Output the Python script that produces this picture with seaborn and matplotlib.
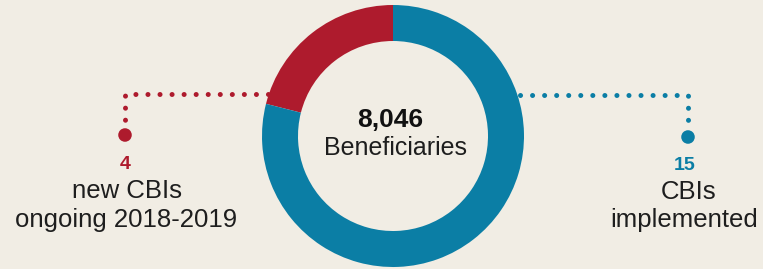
import matplotlib
matplotlib.use("Agg")
import matplotlib.pyplot as plt
import seaborn as sns
import pandas as pd
import numpy as np

# ---- data ----
categories = ["new CBIs\nongoing 2018-2019", "CBIs\nimplemented"]
values = [4, 15]
beneficiaries = 8046
center_label = "Beneficiaries"

# ---- style ----
BG = "#F1EDE4"
RED = "#AE1B2D"
BLUE = "#0B7EA5"
TXT = "#1E1E1E"
colors = [RED, BLUE]

sns.set_theme(style="white", rc={"figure.facecolor": BG, "axes.facecolor": BG})
plt.rcParams["font.family"] = ["Liberation Sans", "DejaVu Sans"]

W, H = 763, 269
fig = plt.figure(figsize=(W / 100, H / 100), dpi=100)
ax = fig.add_axes([0, 0, 1, 1])
ax.set_facecolor(BG)

cx, cy, R = 393, 133, 131
ax.pie(values, colors=colors, startangle=90, counterclock=True,
       radius=R, center=(cx, cy),
       wedgeprops=dict(width=36, linewidth=0, edgecolor="none"))
ax.set_xlim(0, W)
ax.set_ylim(0, H)
ax.set_aspect("equal")
ax.axis("off")
for w in ax.patches:
    w.set_zorder(3)

# connectors (dotted) and end dots
dot_style = dict(linewidth=3.6, linestyle=(0, (0.01, 2.4)),
                 dash_capstyle="round", zorder=2)
# left (red)
lx, ly_top, ly_end = 125, 175, 134
ax.plot([268, lx, lx], [ly_top, ly_top, ly_end + 8], color=RED, **dot_style)
# right (blue)
rx, ry_top, ry_end = 688, 174, 132
ax.plot([520, rx, rx], [ry_top, ry_top, ry_end + 8], color=BLUE, **dot_style)

ends = pd.DataFrame({"x": [lx, rx], "y": [ly_end, ry_end], "cat": categories})
sns.scatterplot(data=ends, x="x", y="y", hue="cat", palette=colors,
                s=95, linewidth=0, legend=False, ax=ax, zorder=4)
ax.set_xlim(0, W)
ax.set_ylim(0, H)
ax.axis("off")

# numbers and labels
ax.text(lx, 100, f"{values[0]}", color=RED, fontsize=14, fontweight="bold",
        ha="center", va="baseline")
l1, l2 = categories[0].split("\n")
ax.text(127, 71, l1, color=TXT, fontsize=18.5, ha="center", va="baseline")
ax.text(126, 42, l2, color=TXT, fontsize=18.5, ha="center", va="baseline")

ax.text(685, 99, f"{values[1]}", color=BLUE, fontsize=14, fontweight="bold",
        ha="center", va="baseline")
r1, r2 = categories[1].split("\n")
ax.text(689, 70, r1, color=TXT, fontsize=18.5, ha="center", va="baseline")
ax.text(684, 42, r2, color=TXT, fontsize=18.5, ha="center", va="baseline")

ax.text(390, 142, f"{beneficiaries:,}", color="#111111", fontsize=19,
        fontweight="bold", ha="center", va="baseline")
ax.text(395, 114, center_label, color=TXT, fontsize=18, ha="center",
        va="baseline")

fig.savefig("out.png", dpi=100, facecolor=BG)
